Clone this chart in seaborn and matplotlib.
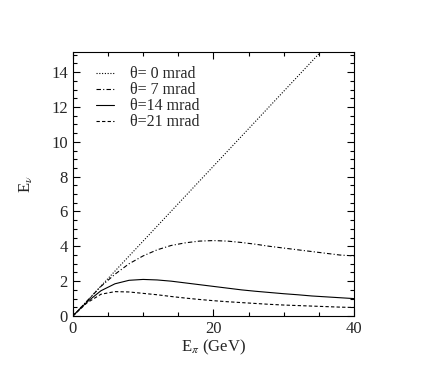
import numpy as np
import pandas as pd
import matplotlib
matplotlib.use("Agg")
import matplotlib.pyplot as plt
import seaborn as sns
from matplotlib.ticker import MultipleLocator

sns.set_theme(style="ticks")
plt.rcParams['font.family'] = ['Liberation Serif', 'DejaVu Serif']
plt.rcParams['mathtext.fontset'] = 'stix'

# Data
x0 = [0, 40]
y0 = [0, 17.2]
x = [0, 2, 4, 6, 8, 10, 12, 14, 16, 18, 20, 22, 24, 26, 28, 30, 32, 34, 36, 38, 40]
y7 = [0, 0.85, 1.7, 2.4, 3.0, 3.45, 3.8, 4.05, 4.2, 4.3, 4.33, 4.3, 4.22, 4.12, 4.0, 3.9, 3.8, 3.7, 3.6, 3.5, 3.45]
y14 = [0, 0.8, 1.45, 1.85, 2.05, 2.1, 2.07, 2.0, 1.9, 1.8, 1.7, 1.6, 1.5, 1.42, 1.35, 1.28, 1.22, 1.15, 1.1, 1.05, 1.0]
y21 = [0, 0.75, 1.25, 1.4, 1.38, 1.3, 1.22, 1.12, 1.03, 0.95, 0.88, 0.82, 0.77, 0.72, 0.67, 0.63, 0.6, 0.57, 0.54, 0.51, 0.49]
labels = ["θ= 0 mrad", "θ= 7 mrad", "θ=14 mrad", "θ=21 mrad"]

fig = plt.figure(figsize=(4.36, 3.72), dpi=100)
ax = fig.add_axes([0.167, 0.1505, 0.645, 0.7095])

series = [(x0, y0, (0, (1, 1.5))), (x, y7, (0, (4, 2, 1, 2))), (x, y14, '-'), (x, y21, (0, (3, 2)))]
for (xs, ys, ls), lab in zip(series, labels):
    df = pd.DataFrame({"x": xs, "y": ys})
    sns.lineplot(data=df, x="x", y="y", ax=ax, color="black", linewidth=0.8,
                 linestyle=ls, label=lab)

ax.set_xlim(0, 40)
ax.set_ylim(0, 15.15)
ax.xaxis.set_major_locator(MultipleLocator(20))
ax.xaxis.set_minor_locator(MultipleLocator(5))
ax.yaxis.set_major_locator(MultipleLocator(2))
ax.yaxis.set_minor_locator(MultipleLocator(0.5))
ax.tick_params(which='both', direction='in', top=True, right=True, labelsize=12, width=0.8, color='black')
ax.tick_params(which='major', length=5)
ax.tick_params(which='minor', length=3)
for s in ax.spines.values():
    s.set_linewidth(0.8)
    s.set_color('black')
ax.set_xlabel(r"E$_\pi$ (GeV)", fontsize=12, labelpad=1)
ax.set_ylabel(r"E$_\nu$", fontsize=12, labelpad=12)

leg = ax.legend(loc='upper left', bbox_to_anchor=(0.06, 0.97), frameon=False, fontsize=11.5,
                handlelength=1.1, handletextpad=1.0, labelspacing=0.0, borderaxespad=0)
fig.savefig("out.png", dpi=100)
